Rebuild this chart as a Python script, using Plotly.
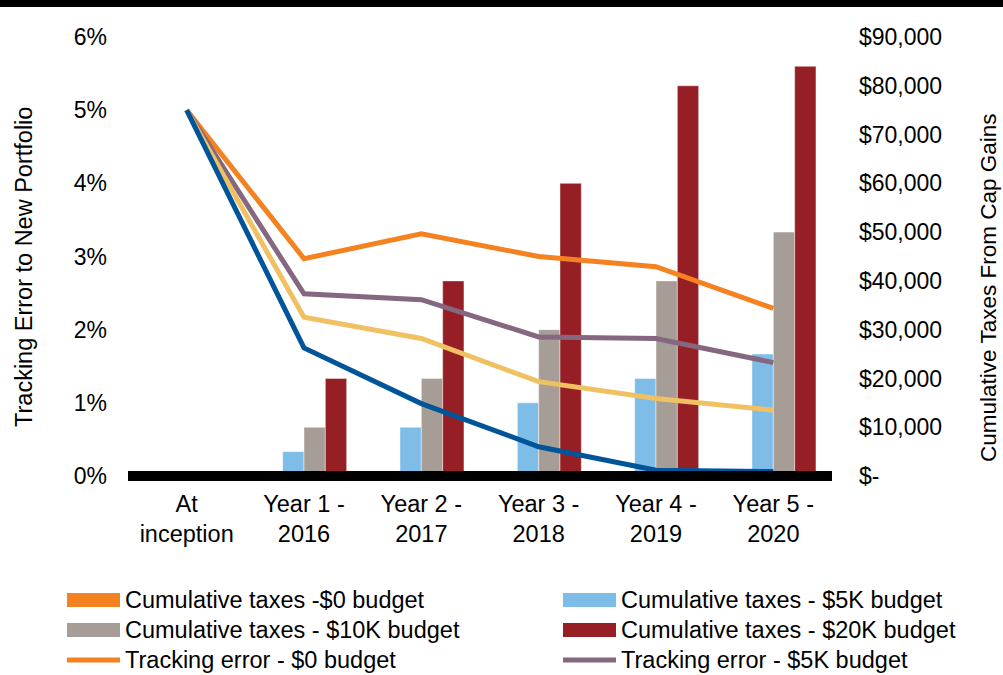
import plotly.graph_objects as go

# Periods on the category axis
periods = ["At<br>inception", "Year 1 -<br>2016", "Year 2 -<br>2017",
           "Year 3 -<br>2018", "Year 4 -<br>2019", "Year 5 -<br>2020"]

# Cumulative taxes from capital gains ($) by tax budget
taxes_0k = [0, 0, 0, 0, 0, 0]
taxes_5k = [0, 5000, 10000, 15000, 20000, 25000]
taxes_10k = [0, 10000, 20000, 30000, 40000, 50000]
taxes_20k = [0, 20000, 40000, 60000, 80000, 84000]

# Tracking error to the new portfolio (%) by tax budget
te_0k = [5.0, 2.97, 3.31, 3.00, 2.86, 2.29]
te_5k = [5.0, 2.49, 2.41, 1.90, 1.88, 1.55]
te_10k = [5.0, 2.17, 1.88, 1.29, 1.06, 0.90]
te_20k = [5.0, 1.75, 0.99, 0.40, 0.08, 0.06]

# Axis ticks
pct_ticks = [0, 1, 2, 3, 4, 5, 6]
pct_labels = [f"{v}%" for v in pct_ticks]
dollar_ticks = list(range(0, 90001, 10000))
dollar_labels = ["$-" if v == 0 else f"${v:,}" for v in dollar_ticks]

# Palette
ORANGE = "#F58220"
LIGHT_BLUE = "#7DBDE8"
GRAY = "#A59D96"
DARK_RED = "#961F25"
PURPLE = "#85677F"
YELLOW = "#F0C162"
NAVY = "#00549A"

FONT = "Liberation Sans, Arial, sans-serif"
FS = 23.5

W, H = 1003, 675
L, R, T, B = 128, 171, 37, 199
PW, PH = W - L - R, H - T - B


def px_x(px):
    return (px - L) / PW


def px_y(py):
    return (H - B - py) / PH


bars = [
    ("Cumulative taxes -$0 budget", taxes_0k, ORANGE),
    ("Cumulative taxes - $5K budget", taxes_5k, LIGHT_BLUE),
    ("Cumulative taxes - $10K budget", taxes_10k, GRAY),
    ("Cumulative taxes - $20K budget", taxes_20k, DARK_RED),
]
lines = [
    ("Tracking error - $0 budget", te_0k, ORANGE),
    ("Tracking error - $5K budget", te_5k, PURPLE),
    ("Tracking error - $10K budget", te_10k, YELLOW),
    ("Tracking error - $20K budget", te_20k, NAVY),
]

fig = go.Figure()
for name, vals, color in bars:
    fig.add_trace(go.Bar(
        x=periods, y=vals, name=name, yaxis="y",
        marker=dict(color=color, line=dict(color="rgba(255,255,255,0.45)", width=1)),
        showlegend=False,
    ))
for name, vals, color in lines:
    fig.add_trace(go.Scatter(
        x=periods, y=vals, name=name, yaxis="y2", mode="lines",
        line=dict(color=color, width=5), showlegend=False,
    ))

# Legend drawn as two columns of swatches and labels
legend_entries = [(n, c, "bar") for n, _, c in bars] + [(n, c, "line") for n, _, c in lines[:2]]
shapes = []
annotations = []
for i, (name, color, kind) in enumerate(legend_entries):
    row, col = divmod(i, 2)
    x0 = 67 + col * 496
    x1 = x0 + 53
    yc = 600 + row * 30
    if kind == "bar":
        shapes.append(dict(type="rect", xref="paper", yref="paper",
                           x0=px_x(x0), x1=px_x(x1), y0=px_y(yc + 7), y1=px_y(yc - 7),
                           fillcolor=color, line=dict(width=0)))
    else:
        shapes.append(dict(type="line", xref="paper", yref="paper",
                           x0=px_x(x0), x1=px_x(x1), y0=px_y(yc), y1=px_y(yc),
                           line=dict(color=color, width=5)))
    annotations.append(dict(text=name, xref="paper", yref="paper",
                            x=px_x(x1 + 3), y=px_y(yc), xanchor="left", yanchor="middle",
                            showarrow=False, font=dict(family=FONT, size=FS, color="black")))

# Axis titles
annotations.append(dict(text="Tracking Error to New Portfolio", textangle=-90,
                        xref="paper", yref="paper", x=px_x(24), y=px_y(267),
                        xanchor="center", yanchor="middle", showarrow=False,
                        font=dict(family=FONT, size=FS, color="black")))
annotations.append(dict(text="Cumulative Taxes From Cap Gains", textangle=-90,
                        xref="paper", yref="paper", x=px_x(988), y=px_y(288),
                        xanchor="center", yanchor="middle", showarrow=False,
                        font=dict(family=FONT, size=22.5, color="black")))

# Black band along the top edge
shapes.append(dict(type="rect", xref="paper", yref="paper",
                   x0=px_x(-5), x1=px_x(W + 5), y0=px_y(7), y1=px_y(-5),
                   fillcolor="black", line=dict(width=0), layer="above"))
# Heavy baseline at zero
shapes.append(dict(type="line", xref="paper", yref="paper", x0=0, x1=1, y0=0, y1=0,
                   line=dict(color="black", width=10), layer="above"))

fig.update_layout(
    width=W, height=H,
    margin=dict(l=L, r=R, t=T, b=B, autoexpand=False),
    paper_bgcolor="white", plot_bgcolor="white",
    barmode="group", bargap=0.273, bargroupgap=0,
    font=dict(family=FONT, size=FS, color="black"),
    showlegend=False,
    xaxis=dict(showgrid=False, showline=False, zeroline=False, ticks="",
               ticklabelstandoff=11, tickfont=dict(size=FS)),
    yaxis=dict(side="right", range=[0, 90000], tickvals=dollar_ticks, ticktext=dollar_labels,
               showgrid=False, zeroline=False, showline=False, ticks="",
               ticklabelstandoff=26, tickfont=dict(size=23)),
    yaxis2=dict(side="left", overlaying="y", range=[0, 6], tickvals=pct_ticks,
                ticktext=pct_labels, showgrid=False, zeroline=False, showline=False,
                ticks="", ticklabelstandoff=20, tickfont=dict(size=23)),
    shapes=shapes, annotations=annotations,
)

fig.write_html("out.html")
